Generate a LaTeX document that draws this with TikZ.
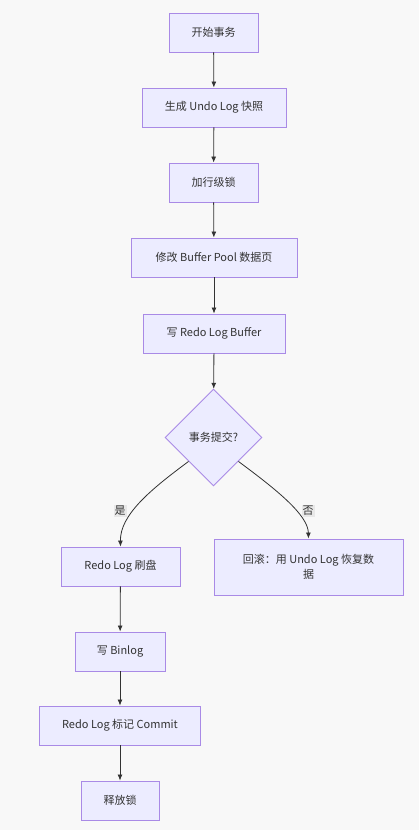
\documentclass[tikz,border=0pt]{standalone}
\usepackage{fontspec}
\setmainfont{Noto Sans CJK SC}
\usetikzlibrary{shapes.geometric,arrows.meta}
\definecolor{nodefill}{HTML}{ECECFF}
\definecolor{nodeline}{HTML}{A98AE6}
\definecolor{edgecol}{HTML}{333333}
\definecolor{lblbg}{HTML}{E8E8E8}
\definecolor{bgcol}{HTML}{F8F8F8}
\begin{document}
\begin{tikzpicture}[x=1pt,y=-1pt,
  box/.style={draw=nodeline,fill=nodefill,line width=0.9pt,inner sep=0pt,align=center,font=\fontsize{11}{15}\selectfont,text=black!80},
  dia/.style={draw=nodeline,fill=nodefill,line width=0.9pt,diamond,inner sep=0pt,minimum width=97pt,minimum height=97pt,font=\fontsize{11}{14}\selectfont,text=black!80},
  edge/.style={draw=edgecol,line width=0.8pt,-{Latex[length=6pt,width=5pt]}},
  lbl/.style={fill=lblbg,inner sep=1pt,font=\fontsize{11}{13}\selectfont,text=black!80}]
\useasboundingbox[fill=bgcol] (0,0) rectangle (419,830);
\node[box,minimum width=89pt,minimum height=39pt] (n1) at (213.5,32.5) {开始事务};
\node[box,minimum width=144pt,minimum height=39pt] (n2) at (214,107.5) {生成 Undo Log 快照};
\node[box,minimum width=89pt,minimum height=39pt] (n3) at (213.5,182.5) {加行级锁};
\node[box,minimum width=166pt,minimum height=39pt] (n4) at (214,257.5) {修改 Buffer Pool 数据页};
\node[box,minimum width=142pt,minimum height=39pt] (n5) at (214,333.5) {写 Redo Log Buffer};
\node[dia] (d) at (213.5,437.5) {事务提交?};
\node[box,minimum width=119pt,minimum height=39pt] (n7) at (120.5,566.5) {Redo Log 刷盘};
\node[box,minimum width=189pt,minimum height=56pt] (n8) at (308.5,567) {回滚：用 Undo Log 恢复数\\据};
\node[box,minimum width=90pt,minimum height=39pt] (n9) at (120,651.5) {写 Binlog};
\node[box,minimum width=161pt,minimum height=39pt] (n10) at (120,725.5) {Redo Log 标记 Commit};
\node[box,minimum width=78pt,minimum height=39pt] (n11) at (120,800.5) {释放锁};
\draw[edge] (n1) -- (n2);
\draw[edge] (n2) -- (n3);
\draw[edge] (n3) -- (n4);
\draw[edge] (n4) -- (n5);
\draw[edge] (n5) -- (d);
\draw[edge] (d.south west) ++(-0.5,-0.5) coordinate (dl) (dl) .. controls (150,490) and (120,515) .. (n7.north);
\draw[edge] (d.south east) ++(0.5,-0.5) coordinate (dr) (dr) .. controls (277,490) and (308,515) .. (n8.north);
\node[lbl] (l1) at (120,511) {是};
\node[lbl] (l2) at (308,511) {否};
\draw[edge] (n7) -- (n9);
\draw[edge] (n9) -- (n10);
\draw[edge] (n10) -- (n11);
\end{tikzpicture}
\end{document}
